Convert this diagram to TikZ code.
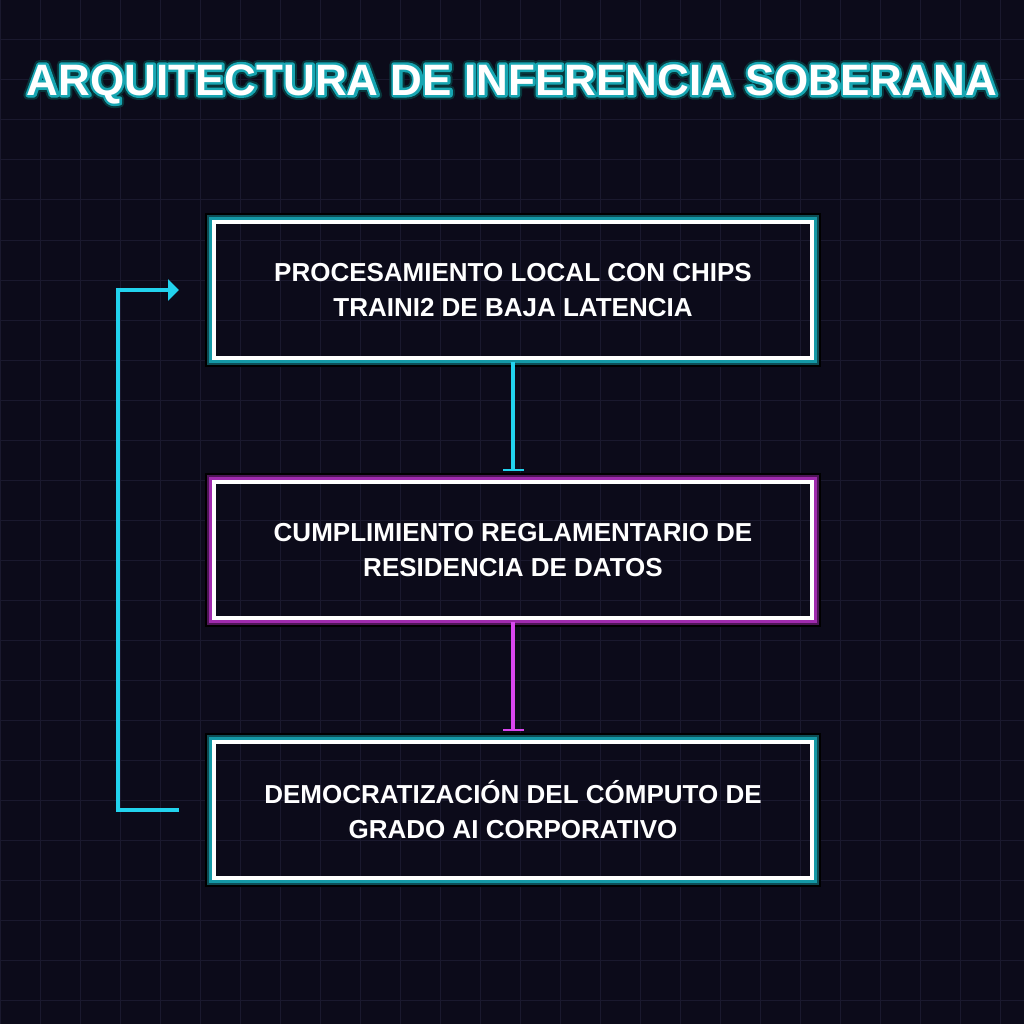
\documentclass[tikz,border=0pt]{standalone}
\usepackage{fontspec}
\setmainfont{Liberation Sans}
\usetikzlibrary{arrows.meta,calc}
\definecolor{bgc}{HTML}{0C0B1A}
\definecolor{gridc}{HTML}{1A192E}
\definecolor{cyanc}{HTML}{22D3EE}
\definecolor{tealglow}{HTML}{1499A6}
\definecolor{tealdark}{HTML}{0D4D55}
\definecolor{magc}{HTML}{D946EF}
\definecolor{magglow}{HTML}{A02BAE}
\definecolor{magdark}{HTML}{4D1556}
\definecolor{titleteal}{HTML}{17A5B3}
\definecolor{titledark}{HTML}{08353B}
% text outline via PDF text rendering mode (fill + stroke)
\newcommand\outlinetext[3]{\special{pdf:code #1 w 1 j #2 RG 2 Tr}#3\special{pdf:code 0 Tr 1 w}}
\tikzset{
  boxbase/.style={rectangle, minimum width=598pt, minimum height=136pt, inner sep=0pt},
  boxtext/.style={boxbase, draw=white, line width=4pt, text=white, align=center,
    font=\fontsize{26}{35}\selectfont\bfseries},
  glowA/.style={rectangle, inner sep=0pt, minimum width=609pt, minimum height=147pt, draw=black, line width=7pt},
  glowB/.style={rectangle, inner sep=0pt, minimum width=607pt, minimum height=145pt, draw=#1, line width=5pt},
  glowC/.style={rectangle, inner sep=0pt, minimum width=605pt, minimum height=143pt, draw=#1, line width=3pt},
  titlestyle/.style={font=\fontsize{44}{50}\selectfont\bfseries, inner sep=0pt},
  flowline/.style={line width=4pt, line join=miter},
}
\begin{document}
\begin{tikzpicture}[x=1pt,y=-1pt]
\useasboundingbox (0,0) rectangle (1024,1024);
\fill[bgc] (0,0) rectangle (1024,1024);
\foreach \g in {0,40,...,1000} {
  \draw[gridc, line width=1pt] (\g,0) -- (\g,1024);
  \draw[gridc, line width=1pt] (0,\g) -- (1024,\g);
}
% title with outline glow
\node[titlestyle, text=titledark] at (512,84) {\outlinetext{9}{0.03 0.21 0.23}{ARQUITECTURA DE INFERENCIA SOBERANA}};
\node[titlestyle, text=titleteal] at (512,84) {\outlinetext{5}{0.09 0.65 0.70}{ARQUITECTURA DE INFERENCIA SOBERANA}};
\node[titlestyle, text=white] (title) at (512,84) {ARQUITECTURA DE INFERENCIA SOBERANA};
% box glows (outside the white border only)
\node[glowA] at (513,290) {};
\node[glowB=tealdark] at (513,290) {};
\node[glowC=tealglow] at (513,290) {};
\node[glowA] at (513,550) {};
\node[glowB=magdark] at (513,550) {};
\node[glowC=magglow] at (513,550) {};
\node[glowA] at (513,810) {};
\node[glowB=tealdark] at (513,810) {};
\node[glowC=tealglow] at (513,810) {};
% boxes
\node[boxtext] (b1) at (513,290) {PROCESAMIENTO LOCAL CON CHIPS\\TRAINI2 DE BAJA LATENCIA};
\node[boxtext] (b2) at (513,550) {CUMPLIMIENTO REGLAMENTARIO DE\\RESIDENCIA DE DATOS};
\node[boxtext] (b3) at (513,810) {DEMOCRATIZACIÓN DEL CÓMPUTO DE\\GRADO AI CORPORATIVO};
% connectors
\draw[flowline, cyanc, -{Bar[width=21pt,line width=2pt]}, shorten <=2pt, shorten >=9pt] (b1.south) -- (b2.north);
\draw[flowline, magc, -{Bar[width=21pt,line width=2pt]}, shorten <=2pt, shorten >=9pt] (b2.south) -- (b3.north);
\coordinate (fbstart) at ([xshift=-33pt]b3.west);
\coordinate (fbend) at ([xshift=-33pt]b1.west);
\draw[flowline, cyanc, -{Triangle[length=11pt,width=21pt]}] (fbstart) -- ++(-61,0) |- (fbend);
\end{tikzpicture}
\end{document}
